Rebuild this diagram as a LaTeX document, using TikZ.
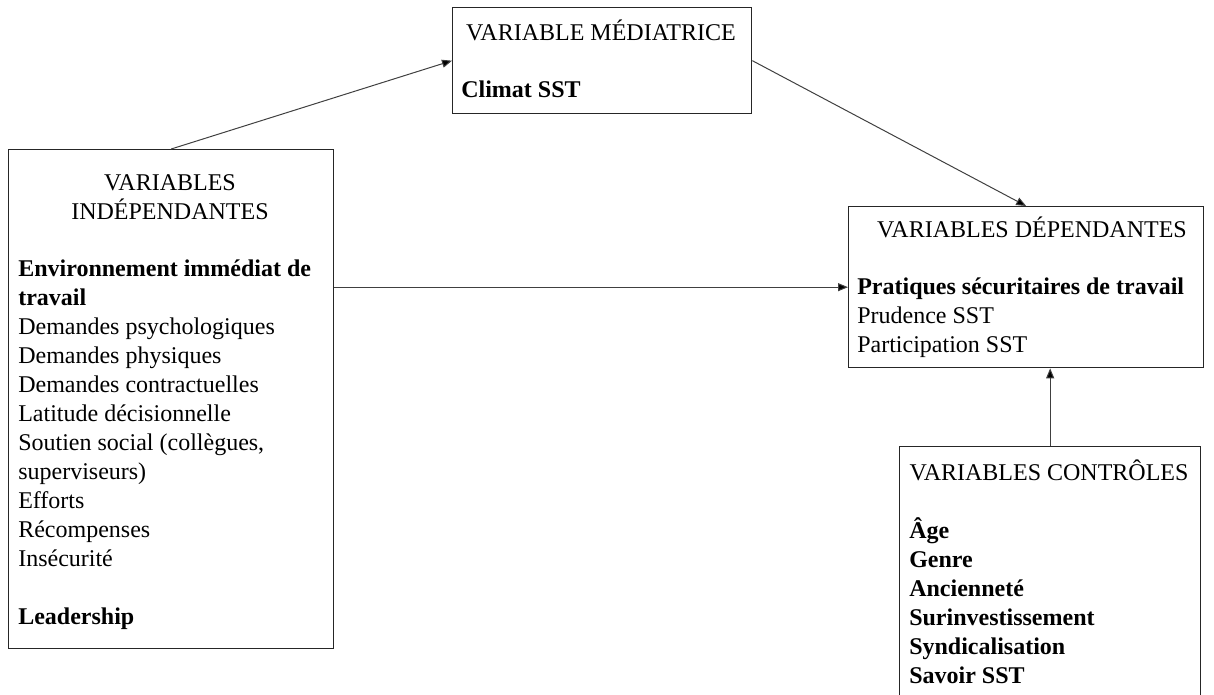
\documentclass[tikz,border=0pt]{standalone}
\usepackage{fontspec}
\setmainfont{Liberation Serif}
\usetikzlibrary{positioning, arrows.meta}

\newcommand{\boxfont}{\fontsize{18}{21.75}\selectfont}

\begin{document}
\begin{tikzpicture}[x=0.75pt, y=-0.75pt,
  box/.style={draw=black!85, line width=1pt, inner sep=0pt, anchor=north west},
  title/.style={anchor=base, font=\boxfont, inner sep=0pt},
  items/.style={anchor=north west, font=\boxfont, align=left, inner sep=0pt},
  link/.style={draw=black!75, line width=0.75pt, -{Triangle[length=7.5pt, width=6pt, fill=black]}}]
  \useasboundingbox (0,0) rectangle (1214,694);
  % boxes
  \node[box, minimum width=224.25pt, minimum height=79.5pt] (med) at (452,7) {};
  \node[box, minimum width=243.75pt, minimum height=374.25pt] (ind) at (8,149) {};
  \node[box, minimum width=266.25pt, minimum height=120.75pt] (dep) at (848,206) {};
  \node[box, minimum width=225.75pt, minimum height=198pt] (ctl) at (899,446) {};
  % texts
  \node[title] (medtitle) at (601,40) {VARIABLE MÉDIATRICE};
  \node[title, anchor=base west] (medtxt) at (461,97) {\textbf{Climat SST}};
  \node[items, anchor=north, align=center] (indtitle) at (170,174) {VARIABLES\\INDÉPENDANTES};
  \node[items] (inditems) at (18,260) {\textbf{Environnement immédiat de}\\
    \textbf{travail}\\
    Demandes psychologiques\\
    Demandes physiques\\
    Demandes contractuelles\\
    Latitude décisionnelle\\
    Soutien social (collègues,\\
    superviseurs)\\
    Efforts\\
    Récompenses\\
    Insécurité\\[21.75pt]
    \textbf{Leadership}};
  \node[title] (deptitle) at (1032,237) {VARIABLES DÉPENDANTES};
  \node[items] (depitems) at (857,278) {\textbf{Pratiques sécuritaires de travail}\\
    Prudence SST\\
    Participation SST};
  \node[title] (ctltitle) at (1049,480) {VARIABLES CONTRÔLES};
  \node[items] (ctlitems) at (909,517) {\textbf{Âge}\\
    \textbf{Genre}\\
    \textbf{Ancienneté}\\
    \textbf{Surinvestissement}\\
    \textbf{Syndicalisation}\\
    \textbf{Savoir SST}};
  % links
  \draw[link] (ind.north) -- (med.west);
  \draw[link] (med.east) -- (dep.north);
  \draw[link] (ind.east |- dep.west) -- (dep.west);
  \draw[link] (ctl.north) -- (ctl.north |- dep.south);
\end{tikzpicture}
\end{document}
